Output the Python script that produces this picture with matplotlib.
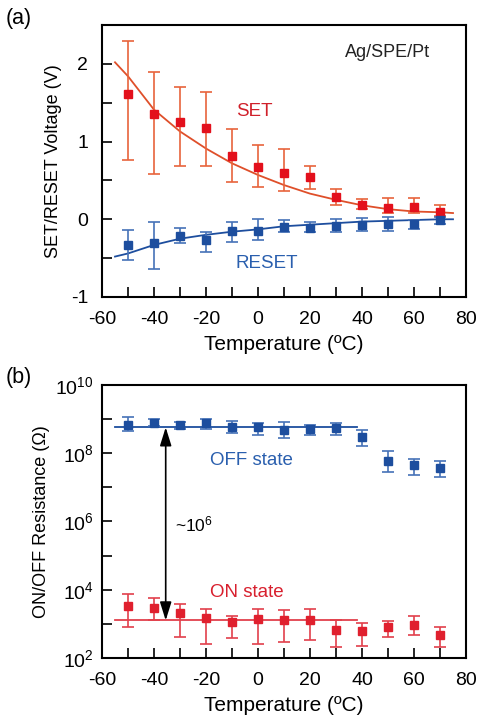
import numpy as np
import matplotlib
matplotlib.use('Agg')
import matplotlib.pyplot as plt
from matplotlib.ticker import MultipleLocator, FixedLocator, FuncFormatter

plt.rcParams['font.family'] = ['Liberation Sans', 'DejaVu Sans']
plt.rcParams['mathtext.fontset'] = 'custom'
plt.rcParams['mathtext.rm'] = 'Liberation Sans'
plt.rcParams['mathtext.it'] = 'Liberation Sans'
plt.rcParams['axes.unicode_minus'] = False

# temperatures of the measured points
temps = [-50, -40, -30, -20, -10, 0, 10, 20, 30, 40, 50, 60, 70]

# (a) SET / RESET voltage, values and error bar ends
set_v = [1.61, 1.36, 1.25, 1.17, 0.82, 0.67, 0.60, 0.55, 0.29, 0.19, 0.15, 0.16, 0.09]
set_hi = [2.29, 1.89, 1.70, 1.64, 1.16, 0.95, 0.91, 0.69, 0.39, 0.26, 0.28, 0.27, 0.19]
set_lo = [0.76, 0.58, 0.69, 0.69, 0.48, 0.41, 0.36, 0.39, 0.18, 0.13, 0.08, 0.08, 0.04]
reset_v = [-0.33, -0.30, -0.21, -0.27, -0.15, -0.15, -0.10, -0.11, -0.09, -0.07, -0.06, -0.06, -0.01]
reset_hi = [-0.14, -0.03, -0.11, -0.17, -0.03, 0.00, -0.01, -0.04, 0.00, 0.02, 0.03, -0.01, 0.03]
reset_lo = [-0.52, -0.64, -0.30, -0.42, -0.29, -0.27, -0.17, -0.17, -0.16, -0.15, -0.15, -0.13, -0.06]

# fitted curves
fit_t = [-55, -50, -40, -30, -20, -10, 0, 10, 20, 30, 40, 50, 60, 70, 75]
set_fit = [2.02, 1.84, 1.41, 1.13, 0.91, 0.72, 0.57, 0.44, 0.33, 0.25, 0.18, 0.13, 0.10, 0.09, 0.08]
reset_fit = [-0.48, -0.44, -0.33, -0.25, -0.20, -0.16, -0.13, -0.09, -0.07, -0.05, -0.03, -0.02, -0.01, 0.0, 0.0]

# (b) resistance, log10 values
off_log = [8.82, 8.90, 8.83, 8.88, 8.78, 8.78, 8.68, 8.71, 8.75, 8.47, 7.78, 7.66, 7.56]
off_hi = [9.07, 9.00, 8.93, 9.00, 8.95, 8.90, 8.91, 8.83, 8.90, 8.68, 8.08, 7.84, 7.78]
off_lo = [8.66, 8.80, 8.71, 8.71, 8.60, 8.53, 8.44, 8.53, 8.54, 8.21, 7.45, 7.36, 7.29]
on_log = [3.51, 3.46, 3.32, 3.17, 3.05, 3.14, 3.10, 3.10, 2.81, 2.78, 2.90, 2.96, 2.66]
on_hi = [3.88, 3.76, 3.59, 3.44, 3.24, 3.44, 3.40, 3.44, 3.12, 3.02, 3.09, 3.22, 2.90]
on_lo = [2.90, 3.12, 2.61, 2.41, 2.59, 2.41, 2.47, 2.54, 2.32, 2.34, 2.61, 2.66, 2.32]
level_t = [-55, 38]
off_level = 8.76
on_level = 3.10

red = '#e3101c'
red_err = '#e8643c'
red_line = '#df4f2a'
blue = '#1d4e9e'
blue_err = '#4672b8'
on_red = '#e0202e'
on_err = '#e2404c'


def pow10(v):
    return [10.0 ** a for a in v]


def style(ax):
    for s in ax.spines.values():
        s.set_linewidth(1.5)
    ax.tick_params(which='both', direction='in', length=7, width=1.2,
                   labelsize=14, top=False, right=False)
    ax.tick_params(axis='x', which='both', pad=10)
    ax.tick_params(axis='y', which='both', pad=10)
    ax.set_xlim(-60, 80)
    ax.xaxis.set_major_locator(MultipleLocator(20))
    ax.xaxis.set_minor_locator(MultipleLocator(10))
    ax.set_xlabel('Temperature (ºC)', fontsize=15, labelpad=5)


fig = plt.figure(figsize=(4.78, 7.24), dpi=100)
ax1 = fig.add_axes([0.2134, 0.5898, 0.7615, 0.3757])
ax2 = fig.add_axes([0.2134, 0.0912, 0.7615, 0.3770])

# ---- (a)
t = np.array(temps)
sv = np.array(set_v)
rv = np.array(reset_v)
ax1.plot(fit_t, set_fit, color=red_line, lw=1.3)
ax1.plot(fit_t, reset_fit, color=blue, lw=1.3)
ax1.errorbar(t, sv, yerr=[sv - np.array(set_lo), np.array(set_hi) - sv], fmt='none',
             ecolor=red_err, elinewidth=1.2, capsize=4, capthick=1.2)
ax1.errorbar(t, rv, yerr=[rv - np.array(reset_lo), np.array(reset_hi) - rv], fmt='none',
             ecolor=blue_err, elinewidth=1.2, capsize=4, capthick=1.2)
ax1.plot(t, sv, 's', color=red, ms=5.5, zorder=5)
ax1.plot(t, rv, 's', color=blue, ms=5.5, zorder=5)
style(ax1)
ax1.set_ylim(-1, 2.5)
ax1.yaxis.set_major_locator(MultipleLocator(1))
ax1.yaxis.set_minor_locator(MultipleLocator(0.5))
ax1.set_ylabel('SET/RESET Voltage (V)', fontsize=13, labelpad=6)
ax1.text(-8.5, 1.39, 'SET', color='#d0202a', fontsize=13.5, va='center')
ax1.text(-8.5, -0.57, 'RESET', color='#2a5fae', fontsize=13.5, va='center')
ax1.text(33.5, 2.14, 'Ag/SPE/Pt', color='#222222', fontsize=13, va='center')

# ---- (b)
ov = np.array(pow10(off_log))
nv = np.array(pow10(on_log))
ax2.plot(level_t, [10 ** off_level] * 2, color=blue, lw=1.3)
ax2.plot(level_t, [10 ** on_level] * 2, color=on_err, lw=1.3)
ax2.errorbar(t, ov, yerr=[ov - np.array(pow10(off_lo)), np.array(pow10(off_hi)) - ov], fmt='none',
             ecolor=blue_err, elinewidth=1.2, capsize=4, capthick=1.2)
ax2.errorbar(t, nv, yerr=[nv - np.array(pow10(on_lo)), np.array(pow10(on_hi)) - nv], fmt='none',
             ecolor=on_err, elinewidth=1.2, capsize=4, capthick=1.2)
ax2.plot(t, ov, 's', color=blue, ms=5.5, zorder=5)
ax2.plot(t, nv, 's', color=on_red, ms=5.5, zorder=5)
style(ax2)
ax2.set_yscale('log')
ax2.set_ylim(1e2, 1e10)
ax2.yaxis.set_major_locator(FixedLocator([10.0 ** k for k in range(2, 11)]))
ax2.yaxis.set_minor_locator(FixedLocator([]))
ax2.yaxis.set_major_formatter(FuncFormatter(
    lambda v, p: r'$10^{%d}$' % round(np.log10(v)) if round(np.log10(v)) % 2 == 0 else ''))
ax2.tick_params(axis='y', pad=6)
ax2.set_ylabel('ON/OFF Resistance (Ω)', fontsize=13, labelpad=4)
ax2.annotate('', xy=(-35.5, 10 ** on_level), xytext=(-35.5, 10 ** off_level),
             arrowprops=dict(arrowstyle='<|-|>,head_length=0.8,head_width=0.25', color='black',
                             lw=1.2, mutation_scale=14, shrinkA=0, shrinkB=0))
ax2.text(-32, 10 ** 5.9, r'~10$^6$', fontsize=12.5, va='center')
ax2.text(-18.5, 10 ** 7.78, 'OFF state', color='#2a5fae', fontsize=13.5, va='center')
ax2.text(-18.5, 10 ** 3.93, 'ON state', color='#d8202e', fontsize=13.5, va='center')

fig.text(0.012, 0.975, '(a)', fontsize=15.5, va='center')
fig.text(0.012, 0.478, '(b)', fontsize=15.5, va='center')

fig.savefig('out.png', dpi=100)
